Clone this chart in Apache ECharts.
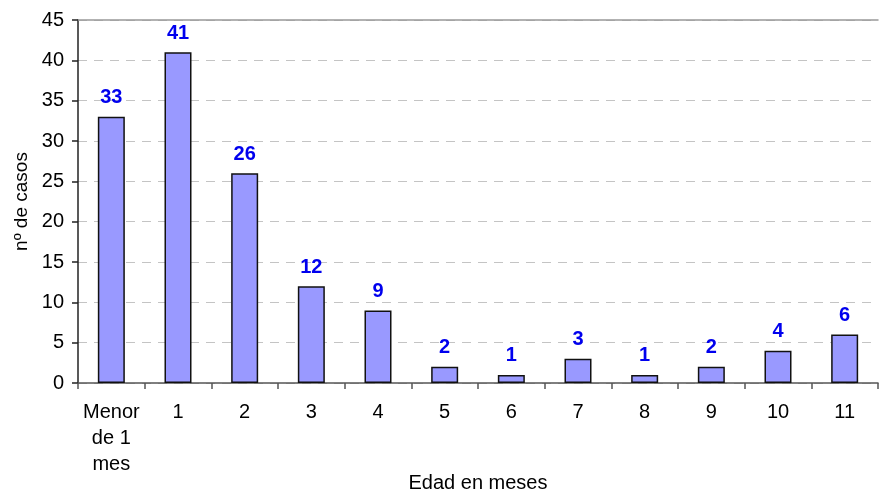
<!DOCTYPE html>
<html>
<head>
<meta charset="utf-8">
<script src="https://cdn.jsdelivr.net/npm/echarts@6/dist/echarts.min.js"></script>
<style>
  html, body { margin: 0; padding: 0; background: #fff; }
  #chart { width: 881px; height: 494px; }
</style>
</head>
<body>
<div id="chart"></div>
<script>
const categories = ['Menor\nde 1\nmes', '1', '2', '3', '4', '5', '6', '7', '8', '9', '10', '11'];
const casos = [33, 41, 26, 12, 9, 2, 1, 3, 1, 2, 4, 6];
const yTicks = { min: 0, max: 45, interval: 5 };

const chart = echarts.init(document.getElementById('chart'));
const font = '"Liberation Sans", Arial, sans-serif';

chart.setOption({
    animation: false,
    grid: { left: 78, right: 3, top: 20, bottom: 111, outerBoundsMode: 'none', containLabel: false },
    xAxis: [{
        type: 'category',
        data: categories,
        name: 'Edad en meses',
        nameLocation: 'middle',
        nameGap: 90,
        nameMoveOverlap: false,
        nameTextStyle: { color: '#000', fontSize: 20, fontFamily: font },
        axisLine: { lineStyle: { color: '#555', width: 1.5 } },
        axisTick: { show: true, length: 6, lineStyle: { color: '#555', width: 1.5 } },
        axisLabel: {
            color: '#000', fontSize: 20, fontFamily: font,
            margin: 16, lineHeight: 26, interval: 0
        }
    }, {
        type: 'category',
        position: 'top',
        data: categories,
        axisLine: { lineStyle: { color: '#999', width: 1.5 } },
        axisTick: { show: false },
        axisLabel: { show: false }
    }],
    yAxis: {
        type: 'value',
        min: yTicks.min,
        max: yTicks.max,
        interval: yTicks.interval,
        name: 'nº de casos',
        nameLocation: 'middle',
        nameGap: 47,
        nameMoveOverlap: false,
        nameTextStyle: { color: '#000', fontSize: 19, fontFamily: font },
        axisLine: { show: true, lineStyle: { color: '#222', width: 1.5 } },
        axisTick: { show: true, length: 6, lineStyle: { color: '#222', width: 1.5 } },
        axisLabel: { color: '#000', fontSize: 20, fontFamily: font, margin: 14 },
        splitLine: { lineStyle: { color: '#c4c4c4', type: [9, 7], width: 1.2 } }
    },
    series: [{
        type: 'bar',
        data: casos,
        barWidth: 27,
        itemStyle: { color: '#9999FF', borderColor: '#111', borderWidth: 1.5 },
        label: {
            show: true,
            position: 'top',
            distance: 9,
            color: '#0000EE',
            fontWeight: 'bold',
            fontSize: 20,
            fontFamily: font
        }
    }]
});
</script>
</body>
</html>
